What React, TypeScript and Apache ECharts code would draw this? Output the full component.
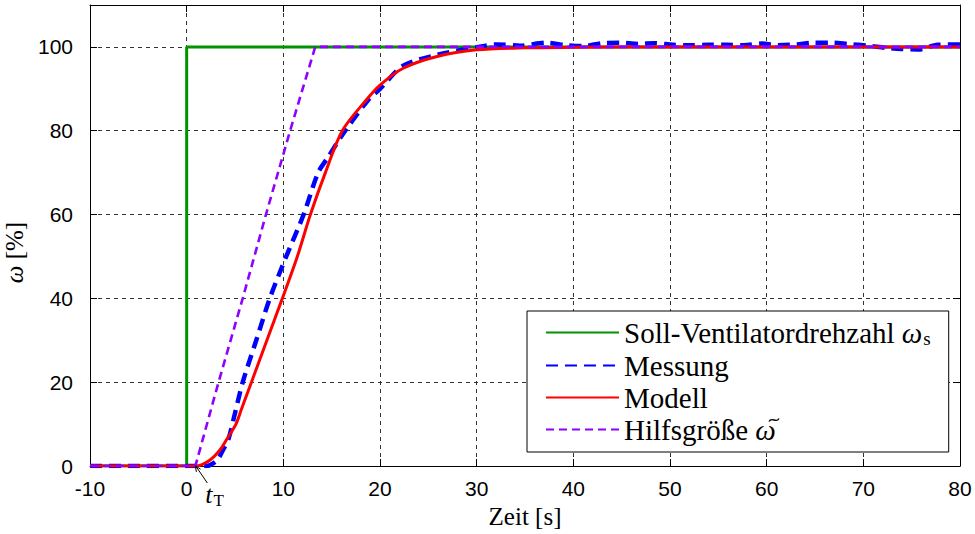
import React, { useEffect, useRef } from "react";
import * as echarts from "echarts";

// ---- data ----
const setpointT = [-10, 0, 0, 80];
const setpointV = [0, 0, 100, 100];

const measT = [-10, -5, 0, 2.0, 2.5, 3.2, 3.8, 4.3, 5.0, 5.8, 7.2, 8.6, 10.3, 12.1, 13.6, 14.6, 16.4, 18.8, 20, 22.4, 25.9, 30, 32, 34.5, 37.2, 39.3, 41, 43, 44.8, 46.7, 48.4, 50.3, 52, 53.9, 55.9, 57.6, 59.5, 61.2, 63.1, 64.8, 66.8, 68.4, 70.5, 72.3, 74, 75.7, 77.7, 79.7, 80];
const measV = [0, 0, 0, 0, 0.3, 1.5, 4, 6.2, 12.6, 20, 30, 40, 50, 60, 70, 73.6, 80, 87.4, 90, 95.5, 98.1, 99.9, 100.6, 100.3, 101, 100.4, 100.2, 100.9, 101, 100.7, 100.9, 100.5, 100.4, 100.5, 100.5, 100.4, 100.8, 100.4, 100.6, 101, 101, 100.7, 100.3, 99.8, 99.5, 99.4, 100.5, 100.6, 100.6];

const modelT = [-10, 0, 1.0, 2.0, 2.8, 3.5, 4.1, 5.1, 5.7, 6.7, 8.3, 9.9, 11.45, 12.8, 14.35, 16.1, 18.6, 20, 22.4, 25.9, 30, 35, 40, 50, 60, 70, 80];
const modelV = [0, 0, 0, 0.8, 2.2, 4, 6.2, 10, 13.8, 20, 30, 40, 50, 60, 70, 80, 87.4, 90.9, 94.9, 97.7, 99.3, 99.8, 99.9, 100, 100, 100, 100];

const auxT = [-10, 0.9, 3.3, 5.8, 8.2, 10.7, 13.3, 80];
const auxV = [0, 0, 20, 40, 60, 80, 100, 100];

const xTicksMin = -10;
const xTicksMax = 80;
const yMin = 0;
const yMax = 110;
const tTrigger = 0.9;

const seriesNames = [
  "Soll-Ventilatordrehzahl ωs",
  "Messung",
  "Modell",
  "Hilfsgröße ω̃",
];

const zip = (a: number[], b: number[]) => a.map((v, i) => [v, b[i]]);

const SERIF = "Liberation Serif";
const SANS = "Liberation Sans";

const LEG_LEFT = 527;
const LEG_TOP = 311;
const LEG_PAD_T = 6;
const LEG_PAD_B = 8;
const LEG_PAD_H = 18;
const LEG_ITEM_W = 73;
const LEG_TEXT_GAP = 15;
const LEG_FONT = 29;
const LEG_LINE = 28;
const LEG_GAP = 3;

export default function App() {
  const ref = useRef<HTMLDivElement>(null);
  useEffect(() => {
    if (!ref.current) return;
    const chart = echarts.init(ref.current, null, { renderer: "svg" });
    const tick = { show: true, inside: true, length: 7, lineStyle: { color: "#000", width: 1 } };
    const axisLine = { show: true, onZero: false, lineStyle: { color: "#000", width: 1 } };
    const split = { show: true, lineStyle: { color: "#333", type: [4, 4], width: 1 } };
    chart.setOption({
      animation: false,
      backgroundColor: "#fff",
      grid: { left: 90, right: 15, top: 5, bottom: 68, containLabel: false, outerBoundsMode: "none" },
      legend: {
        orient: "vertical",
        left: LEG_LEFT,
        top: LEG_TOP,
        padding: [LEG_PAD_T, LEG_PAD_H, LEG_PAD_B, LEG_PAD_H],
        backgroundColor: "#fff",
        borderColor: "#000",
        borderWidth: 1,
        itemWidth: LEG_ITEM_W,
        itemHeight: 14,
        itemGap: LEG_GAP,
        itemTextGap: LEG_TEXT_GAP,
        itemStyle: { opacity: 0 },
        data: seriesNames,
        formatter: (name: string) => {
          if (name === seriesNames[0]) return "{n|Soll-Ventilatordrehzahl }{i|ω}{sub|s}";
          if (name === seriesNames[3]) return "{n|Hilfsgröße }{i|ω}";
          return "{n|" + name + "}";
        },
        textStyle: {
          color: "#000",
          fontFamily: SERIF,
          fontSize: LEG_FONT,
          lineHeight: LEG_LINE,
          rich: {
            n: { fontFamily: SERIF, fontSize: LEG_FONT, lineHeight: LEG_LINE, color: "#000" },
            i: { fontFamily: SERIF, fontSize: LEG_FONT, fontStyle: "italic", lineHeight: LEG_LINE, color: "#000" },
            sub: { fontFamily: SERIF, fontSize: 19, lineHeight: 16, padding: [12, 0, 0, 1], color: "#000" },
          },
        },
      },
      xAxis: [
        {
          type: "value",
          min: xTicksMin,
          max: xTicksMax,
          interval: 10,
          position: "bottom",
          axisLine,
          axisTick: tick,
          axisLabel: { color: "#000", fontFamily: SANS, fontSize: 21, margin: 12 },
          splitLine: split,
          name: "Zeit [s]",
          nameLocation: "middle",
          nameGap: 37,
          nameTextStyle: { fontFamily: SERIF, fontSize: 25, color: "#000" },
        },
        {
          type: "value",
          min: xTicksMin,
          max: xTicksMax,
          interval: 10,
          position: "top",
          axisLine,
          axisTick: tick,
          axisLabel: { show: false },
          splitLine: { show: false },
        },
      ],
      yAxis: [
        {
          type: "value",
          min: yMin,
          max: yMax,
          interval: 20,
          position: "left",
          axisLine,
          axisTick: tick,
          axisLabel: {
            color: "#000",
            fontFamily: SANS,
            fontSize: 21,
            margin: 17,
            formatter: (v: number) => (v > 100 ? "" : String(v)),
          },
          splitLine: split,
          name: "{i|ω} [%]",
          nameLocation: "middle",
          nameGap: 56,
          nameRotate: 90,
          nameTextStyle: {
            fontFamily: SERIF,
            fontSize: 25,
            color: "#000",
            padding: [0, 34, 0, 0],
            rich: {
              i: { fontFamily: SERIF, fontSize: 25, fontStyle: "italic", color: "#000" },
            },
          },
        },
        {
          type: "value",
          min: yMin,
          max: yMax,
          interval: 20,
          position: "right",
          axisLine,
          axisTick: tick,
          axisLabel: { show: false },
          splitLine: { show: false },
        },
      ],
      series: [
        {
          name: seriesNames[0],
          type: "line",
          data: zip(setpointT, setpointV),
          symbol: "none",
          showSymbol: false,
          lineStyle: { color: "#009400", width: 3 },
          itemStyle: { color: "#009400" },
        },
        {
          name: seriesNames[1],
          type: "line",
          data: zip(measT, measV),
          symbol: "none",
          showSymbol: false,
          smooth: 0.3,
          lineStyle: { color: "#0000ff", width: 4.5, type: [12, 7], join: "round" },
          itemStyle: { color: "#0000ff" },
        },
        {
          name: seriesNames[2],
          type: "line",
          data: zip(modelT, modelV),
          symbol: "none",
          showSymbol: false,
          smooth: 0.3,
          lineStyle: { color: "#ff0000", width: 3 },
          itemStyle: { color: "#ff0000" },
        },
        {
          name: seriesNames[3],
          type: "line",
          data: zip(auxT, auxV),
          symbol: "none",
          showSymbol: false,
          lineStyle: { color: "#8f00ff", width: 2.6, type: [8, 5], join: "round" },
          itemStyle: { color: "#8f00ff" },
        },
      ],
    });

    // tilde over the ω of the 4th legend entry (drawn as a curve)
    let prefixW = 130;
    let omegaW = 19;
    try {
      const ctx = document.createElement("canvas").getContext("2d");
      if (ctx) {
        ctx.font = `${LEG_FONT}px ${SERIF}`;
        prefixW = ctx.measureText("Hilfsgröße ").width;
        ctx.font = `italic ${LEG_FONT}px ${SERIF}`;
        omegaW = ctx.measureText("ω").width;
      }
    } catch (e) {
      /* keep defaults */
    }
    const textX = LEG_LEFT + LEG_PAD_H + LEG_ITEM_W + LEG_TEXT_GAP;
    const row4CenterY = LEG_TOP + LEG_PAD_T + 3 * (LEG_LINE + LEG_GAP + 2) + LEG_LINE / 2;
    const tcx = textX + prefixW + omegaW / 2 - 0.5;
    const tcy = row4CenterY - 10;

    const p = chart.convertToPixel({ gridIndex: 0 }, [tTrigger, 0]) as number[];
    const [px, py] = p;
    chart.setOption({
      graphic: [
        {
          type: "line",
          shape: { x1: px + 1, y1: py + 1, x2: px + 12, y2: py + 17 },
          style: { stroke: "#000", lineWidth: 1 },
          z: 100,
        },
        {
          type: "polyline",
          shape: { points: [[px + 5.2, py + 3.1], [px, py], [px + 1, py + 5.9]] },
          style: { stroke: "#000", lineWidth: 1, fill: null },
          z: 100,
        },
        {
          type: "text",
          x: px + 10,
          y: py + 14,
          z: 100,
          style: {
            text: "{i|t}{s|T}",
            rich: {
              i: { fontFamily: SERIF, fontSize: 26, fontStyle: "italic", fill: "#000" },
              s: { fontFamily: SERIF, fontSize: 17, fill: "#000", padding: [12, 0, 0, 1] },
            },
          },
        },
        {
          type: "bezierCurve",
          z: 200,
          shape: {
            x1: tcx - 5,
            y1: tcy + 1.5,
            cpx1: tcx - 2,
            cpy1: tcy - 4,
            cpx2: tcx + 2,
            cpy2: tcy + 4,
            x2: tcx + 5,
            y2: tcy - 1.5,
          },
          style: { stroke: "#000", lineWidth: 1.4, fill: null },
        },
      ],
    });

    return () => chart.dispose();
  }, []);
  return (
    <div
      ref={ref}
      style={{ position: "absolute", left: 0, top: 0, width: 975, height: 534 }}
    />
  );
}
